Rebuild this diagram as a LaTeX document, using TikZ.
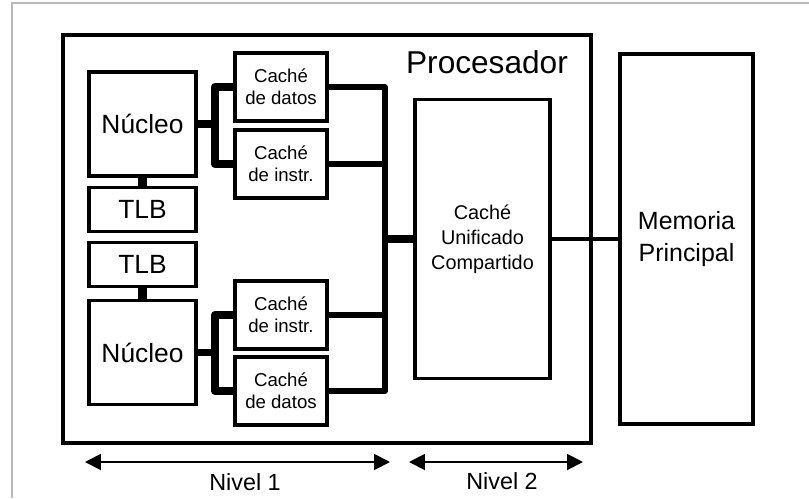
\documentclass[tikz,border=0pt]{standalone}
\usepackage{fontspec}
\setmainfont{Liberation Sans}
\usetikzlibrary{arrows.meta}

\begin{document}
\begin{tikzpicture}[x=0.02cm, y=-0.02cm,
    caja/.style={draw, line width=2pt, inner sep=0pt, align=center},
    nucleo/.style={caja, minimum width=2.14cm, minimum height=2.08cm,
                   font=\fontsize{15}{18}\selectfont},
    tlb/.style={caja, minimum width=2.14cm, minimum height=0.88cm,
                font=\fontsize{15}{18}\selectfont},
    cache/.style={caja, minimum width=1.84cm, minimum height=1.36cm,
                  font=\fontsize{10.6}{12.4}\selectfont},
    busgrueso/.style={line width=4.5pt, line join=round},
    busmedio/.style={line width=3pt, line join=round},
    nivel/.style={arrows={Triangle[length=0.32cm, width=0.32cm]-Triangle[length=0.32cm, width=0.32cm]},
                  line width=1.1pt},
  ]
    \useasboundingbox (0,0) rectangle (809,498);
    % marco
    \draw[gray!55, line width=1.2pt] (12,498) -- (12,3) -- (809,3);

    % Procesador
    \node[caja, minimum width=10.56cm, minimum height=8.16cm] (proc) at (327,239) {};
    \node[font=\fontsize{18}{21}\selectfont] (titulo) at (487,62) {Procesador};

    % Memoria principal
    \node[caja, minimum width=2.66cm, minimum height=7.4cm,
          font=\fontsize{14.2}{18}\selectfont] (mem) at (686.5,239) {Memoria\\Principal};

    % Cache de nivel 2
    \node[caja, minimum width=2.7cm, minimum height=5.58cm,
          font=\fontsize{11.3}{14.2}\selectfont] (l2) at (482.5,239) {Caché\\Unificado\\Compartido};

    % Nucleos y TLB
    \node[nucleo] (nuc1) at (142.5,124) {Núcleo};
    \node[tlb] (tlb1) at (142.5,209.5) {TLB};
    \node[tlb] (tlb2) at (142.5,264.5) {TLB};
    \node[nucleo] (nuc2) at (142.5,352.5) {Núcleo};

    % Caches de nivel 1
    \node[cache] (dat1) at (281,87) {Caché\\de datos};
    \node[cache] (ins1) at (281,164) {Caché\\de instr.};
    \node[cache] (ins2) at (281,315) {Caché\\de instr.};
    \node[cache] (dat2) at (281,391) {Caché\\de datos};

    \coordinate (bus) at (385,0);
    \coordinate (j1) at (215,0);

    % conexiones
    \draw[line width=5.5pt] (nuc1.south) -- (tlb1.north);
    \draw[line width=5.5pt] (tlb2.south) -- (nuc2.north);
    \draw[busgrueso] (nuc1.east) -- (nuc1.east -| j1);
    \draw[busgrueso] (dat1.west) -| (j1 |- ins1.west) -- (ins1.west);
    \draw[busgrueso] (nuc2.east) -- (nuc2.east -| j1);
    \draw[busgrueso] (ins2.west) -| (j1 |- dat2.west) -- (dat2.west);

    \draw[busmedio] (dat1.east) -| (bus |- dat2.east) -- (dat2.east);
    \draw[busmedio] (ins1.east) -- (ins1.east -| bus);
    \draw[busmedio] (ins2.east) -- (ins2.east -| bus);
    \draw[busgrueso] (bus |- l2.west) -- (l2.west);
    \draw[line width=1.8pt] (l2.east) -- (mem.west);

    % flechas
    \coordinate (n1a) at (85,462);
    \coordinate (n1b) at (390,462);
    \coordinate (n2a) at (409,462);
    \coordinate (n2b) at (583,462);
    \draw[nivel] (n1a) -- (n1b);
    \draw[nivel] (n2a) -- (n2b);
    \node[font=\fontsize{13.3}{16}\selectfont] (niv1) at (245,482) {Nivel 1};
    \node[font=\fontsize{13.3}{16}\selectfont] (niv2) at (502,481) {Nivel 2};
\end{tikzpicture}
\end{document}
